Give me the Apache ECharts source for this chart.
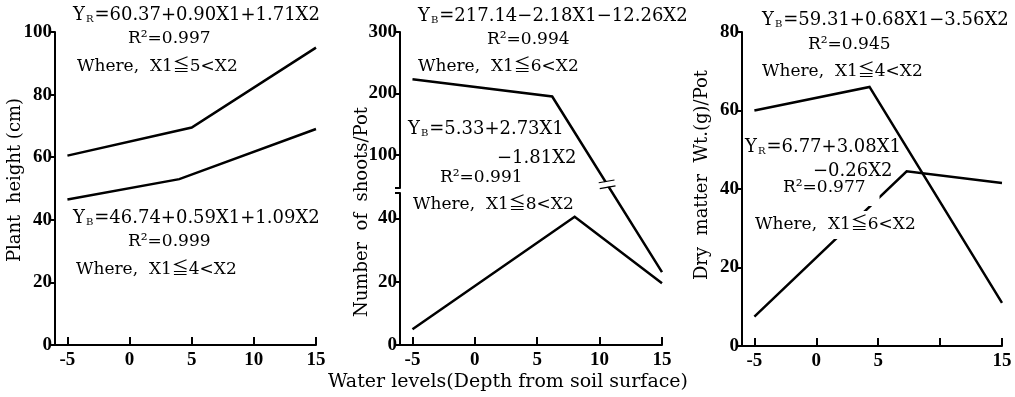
<!DOCTYPE html>
<html><head><meta charset="utf-8">
<script src="https://cdn.jsdelivr.net/npm/echarts@6/dist/echarts.min.js"></script>
<style>html,body{margin:0;padding:0;background:#fff}#c{width:1015px;height:397px}</style>
</head><body><div id="c"></div>
<script>
// ---------- data ----------
const xTickValues = [-5, 0, 5, 10, 15];
const xLabelsP3 = [-5, 0, 5, 15];

const p1UpperX = [-5, 5, 15];
const p1UpperY = [60.5, 69.5, 95];
const p1LowerX = [-5, 4, 15];
const p1LowerY = [46.5, 53, 69];
const p1YTicks = [0, 20, 40, 60, 80, 100];

const p2UpperX = [-5, 6.2, 15];
const p2UpperY = [223, 195, 23];
const p2LowerX = [-5, 8, 15];
const p2LowerY = [5, 40.5, 19.5];
const p2YTicksUpper = [100, 200, 300];
const p2YTicksLower = [0, 20, 40];

const p3UpperX = [-5, 4.3, 15];
const p3UpperY = [60, 66, 11];
const p3LowerX = [-5, 7.3, 15];
const p3LowerY = [7.5, 44.5, 41.5];
const p3YTicks = [0, 20, 40, 60, 80];

const yTitles = ['Plant  height (cm)', 'Number  of  shoots/Pot', 'Dry  matter  Wt.(g)/Pot'];
const xTitle = 'Water levels(Depth from soil surface)';

const notesP1 = ['{e|Y}{s|R}{e|=60.37+0.90X1+1.71X2}', '{t|R²=0.997}', '{t|Where,  X1≦5<X2}',
                 '{e|Y}{s|B}{e|=46.74+0.59X1+1.09X2}', '{t|R²=0.999}', '{t|Where,  X1≦4<X2}'];
const notesP2 = ['{e|Y}{s|B}{e|=217.14−2.18X1−12.26X2}', '{t|R²=0.994}', '{t|Where,  X1≦6<X2}',
                 '{e|Y}{s|B}{e|=5.33+2.73X1}', '{e|−1.81X2}', '{t|R²=0.991}', '{t|Where,  X1≦8<X2}'];
const notesP3 = ['{e|Y}{s|B}{e|=59.31+0.68X1−3.56X2}', '{t|R²=0.945}', '{t|Where,  X1≦4<X2}',
                 '{e|Y}{s|R}{e|=6.77+3.08X1}', '{e|−0.26X2}', '{t|R²=0.977}', '{t|Where,  X1≦6<X2}'];

// ---------- broken axis (panel 2) ----------
const P2 = {topPx: 32, upBotPx: 188, loTopPx: 193, botPx: 345, upMin: 46, upMax: 300, loMax: 48};
const loPerUnit = (P2.botPx - P2.loTopPx) / P2.loMax;
const upPerUnit = (P2.upBotPx - P2.topPx) / (P2.upMax - P2.upMin);
function brokenY(v) {
  if (v <= P2.loMax) return v;
  const px = P2.upBotPx - (v - P2.upMin) * upPerUnit;
  return (P2.botPx - px) / loPerUnit;
}
const brokenMax = (P2.botPx - P2.topPx) / loPerUnit;

// ---------- helpers ----------
const serif = '"DejaVu Serif", "Liberation Serif", "Noto Sans CJK JP", serif';
const tickFont = '"Liberation Serif", "DejaVu Serif", serif';
const zip = (xs, ys) => xs.map((x, i) => [x, ys[i]]);

function xAxisCfg(gridIndex, labels, ticks, show) {
  return {
    type: 'value', gridIndex, min: -6, max: 15, show,
    axisLine: {show: true, onZero: false, lineStyle: {color: '#000', width: 2}},
    axisTick: {show: true, inside: true, length: 8, customValues: ticks, lineStyle: {color: '#000', width: 2}},
    axisLabel: {customValues: labels, margin: 6, color: '#000', fontFamily: tickFont, fontSize: 19, fontWeight: 'bold'},
    splitLine: {show: false}
  };
}
function yAxisCfg(gridIndex, min, max, labels, ticks, show) {
  return {
    type: 'value', gridIndex, min, max, show,
    axisLine: {show: true, onZero: false, lineStyle: {color: '#000', width: 2}},
    axisTick: {show: true, inside: false, length: 5, customValues: ticks, lineStyle: {color: '#000', width: 2}},
    axisLabel: {customValues: labels, margin: 3, color: '#000', fontFamily: tickFont, fontSize: 19, fontWeight: 'bold'},
    splitLine: {show: false}
  };
}
function line(xi, yi, data, extra) {
  return Object.assign({
    type: 'line', xAxisIndex: xi, yAxisIndex: yi, data, symbol: 'none', showSymbol: false,
    lineStyle: {color: '#000', width: 2.5, join: 'miter'}, silent: true, animation: false, z: 3
  }, extra || {});
}
function note(text, x, y, bg) {
  const style = {
    text, x: 0, y: 0, verticalAlign: 'middle', align: 'left',
    rich: {
      t: {fontFamily: serif, fontSize: 17, fill: '#000'},
      e: {fontFamily: serif, fontSize: 18, fill: '#000'},
      s: {fontFamily: serif, fontSize: 10, fill: '#000', verticalAlign: 'bottom', padding: [6, 1, 0, 1]}
    }
  };
  if (bg) { style.backgroundColor = '#fff'; style.padding = bg; }
  return {type: 'text', x, y, z: 50, style};
}
function vtitle(text, x, y) {
  return {type: 'text', x, y, rotation: Math.PI / 2, z: 50,
    style: {text, fontFamily: serif, fontSize: 18, fill: '#000', align: 'center', verticalAlign: 'middle'}};
}

// break mark position on the upper series of panel 2 (on the drawn segment)
const bx = 10.6;
const bt = (bx - p2UpperX[1]) / (p2UpperX[2] - p2UpperX[1]);
const by = brokenY(p2UpperY[1]) + bt * (brokenY(p2UpperY[2]) - brokenY(p2UpperY[1]));

const option = {
  backgroundColor: '#fff',
  animation: false,
  grid: [
    {left: 55, top: 32, width: 261, height: 313},
    {left: 400, top: 32, width: 262, height: 313},
    {left: 400, top: P2.topPx, width: 262, height: P2.upBotPx - P2.topPx},
    {left: 400, top: P2.loTopPx, width: 262, height: P2.botPx - P2.loTopPx},
    {left: 742, top: 32, width: 260, height: 314}
  ],
  xAxis: [
    xAxisCfg(0, xTickValues, xTickValues, true),
    xAxisCfg(1, xTickValues, xTickValues, false),
    xAxisCfg(2, xTickValues, xTickValues, false),
    xAxisCfg(3, xTickValues, xTickValues, true),
    xAxisCfg(4, xLabelsP3, xTickValues, true)
  ],
  yAxis: [
    yAxisCfg(0, 0, 100, p1YTicks, p1YTicks, true),
    yAxisCfg(1, 0, brokenMax, [], [], false),
    yAxisCfg(2, P2.upMin, P2.upMax, p2YTicksUpper, [P2.upMin].concat(p2YTicksUpper), true),
    yAxisCfg(3, 0, P2.loMax, p2YTicksLower, p2YTicksLower.concat([P2.loMax]), true),
    yAxisCfg(4, 0, 80, p3YTicks, p3YTicks, true)
  ],
  series: [
    line(0, 0, zip(p1UpperX, p1UpperY)),
    line(0, 0, zip(p1LowerX, p1LowerY)),
    line(1, 1, zip(p2UpperX, p2UpperY.map(brokenY)), {
      markPoint: {
        silent: true, animation: false,
        label: {show: false},
        data: [
          {coord: [bx, by], symbol: 'rect', symbolSize: [16, 5], symbolRotate: 10,
           itemStyle: {color: '#fff', borderWidth: 0}},
          {coord: [bx, by], symbol: 'path://M0,0L16,0M0,5L16,5', symbolSize: [16, 6], symbolRotate: 10,
           itemStyle: {color: 'none', borderColor: '#000', borderWidth: 2}}
        ]
      }
    }),
    line(3, 3, zip(p2LowerX, p2LowerY)),
    line(4, 4, zip(p3UpperX, p3UpperY)),
    line(4, 4, zip(p3LowerX, p3LowerY))
  ],
  graphic: [
    vtitle(yTitles[0], 15, 180),
    vtitle(yTitles[1], 362, 212),
    vtitle(yTitles[2], 702, 175),
    {type: 'text', x: 508, y: 382, z: 50,
     style: {text: xTitle, fontFamily: serif, fontSize: 19, fill: '#000', align: 'center', verticalAlign: 'middle'}},

    note(notesP1[0], 73, 15), note(notesP1[1], 128, 39), note(notesP1[2], 77, 67),
    note(notesP1[3], 73, 218), note(notesP1[4], 128, 242), note(notesP1[5], 76, 270),

    note(notesP2[0], 418, 16), note(notesP2[1], 487, 40), note(notesP2[2], 418, 67),
    note(notesP2[3], 408, 129), note(notesP2[4], 497, 158), note(notesP2[5], 440, 178),
    note(notesP2[6], 413, 205),

    note(notesP3[0], 762, 20), note(notesP3[1], 808, 45), note(notesP3[2], 762, 72),
    note(notesP3[3], 745, 147), note(notesP3[4], 813, 171),
    note(notesP3[5], 780, 191, [3, 14, 10, 3]), note(notesP3[6], 752, 225, [5, 3, 6, 3])
  ]
};

const chart = echarts.init(document.getElementById('c'), null, {renderer: 'canvas'});
chart.setOption(option);
</script></body></html>
